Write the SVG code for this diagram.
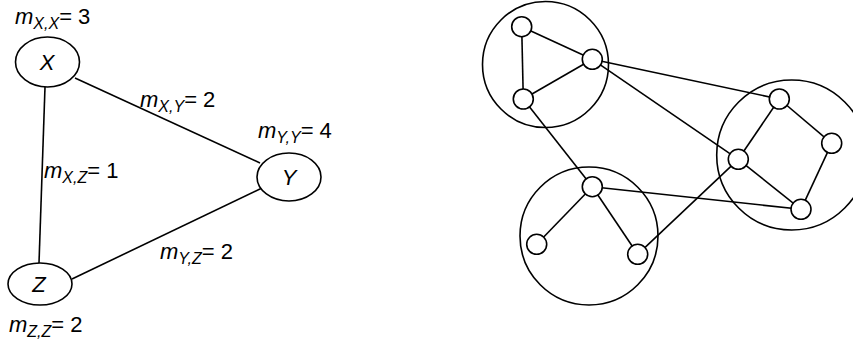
<svg xmlns="http://www.w3.org/2000/svg" width="853" height="345" viewBox="0 0 853 345">
<style>
.ln{stroke:#000;stroke-width:1.6;fill:none}
.nd{stroke:#000;stroke-width:1.6;fill:#fff}
.big{stroke:#000;stroke-width:1.6;fill:none}
text{font-family:"Liberation Sans",Arial,sans-serif;font-size:22px;fill:#000}
.it{font-style:italic}
.sub{font-style:italic;font-size:16px}
.lbl{font-style:italic;font-size:22px;text-anchor:middle}
</style>
<g id="edges-left">
<line class="ln" x1="75" y1="78" x2="260" y2="163"/>
<line class="ln" x1="45" y1="87" x2="39" y2="263"/>
<line class="ln" x1="262" y1="188" x2="72" y2="279"/>
</g>
<g id="node-X"><ellipse class="nd" cx="47.5" cy="62" rx="32" ry="25"/><text class="lbl" x="47" y="70">X</text></g>
<g id="node-Y"><ellipse class="nd" cx="289" cy="177" rx="32" ry="24"/><text class="lbl" x="289" y="185">Y</text></g>
<g id="node-Z"><ellipse class="nd" cx="40" cy="284" rx="32" ry="21"/><text class="lbl" x="39" y="292">Z</text></g>
<g id="labels">
<text x="15" y="24"><tspan class="it">m</tspan><tspan class="sub" dy="5">X,X</tspan><tspan dy="-5">= 3</tspan></text>
<text x="140" y="107"><tspan class="it">m</tspan><tspan class="sub" dy="5">X,Y</tspan><tspan dy="-5">= 2</tspan></text>
<text x="258" y="138"><tspan class="it">m</tspan><tspan class="sub" dy="5">Y,Y</tspan><tspan dy="-5">= 4</tspan></text>
<text x="44" y="178"><tspan class="it">m</tspan><tspan class="sub" dy="5">X,Z</tspan><tspan dy="-5">= 1</tspan></text>
<text x="160" y="259"><tspan class="it">m</tspan><tspan class="sub" dy="5">Y,Z</tspan><tspan dy="-5">= 2</tspan></text>
<text x="9" y="332"><tspan class="it">m</tspan><tspan class="sub" dy="5">Z,Z</tspan><tspan dy="-5">= 2</tspan></text>
</g>
<g id="clusters">
<circle id="cluster-1" class="big" cx="545.5" cy="64.5" r="63"/>
<circle id="cluster-2" class="big" cx="791.7" cy="155" r="75"/>
<circle id="cluster-3" class="big" cx="589" cy="236" r="69"/>
</g>
<g id="edges-right">
<line class="ln" x1="521.7" y1="26.7" x2="592.3" y2="59.3"/>
<line class="ln" x1="521.7" y1="26.7" x2="523.3" y2="99"/>
<line class="ln" x1="592.3" y1="59.3" x2="523.3" y2="99"/>
<line class="ln" x1="592.3" y1="59.3" x2="779.3" y2="99"/>
<line class="ln" x1="592.3" y1="59.3" x2="738.3" y2="159.3"/>
<line class="ln" x1="523.3" y1="99" x2="592.3" y2="186.7"/>
<line class="ln" x1="779.3" y1="99" x2="831.7" y2="143.3"/>
<line class="ln" x1="779.3" y1="99" x2="738.3" y2="159.3"/>
<line class="ln" x1="831.7" y1="143.3" x2="801" y2="209.3"/>
<line class="ln" x1="738.3" y1="159.3" x2="801" y2="209.3"/>
<line class="ln" x1="738.3" y1="159.3" x2="637.7" y2="254.3"/>
<line class="ln" x1="592.3" y1="186.7" x2="801" y2="209.3"/>
<line class="ln" x1="592.3" y1="186.7" x2="536.7" y2="244.3"/>
<line class="ln" x1="592.3" y1="186.7" x2="637.7" y2="254.3"/>
</g>
<g id="n-a"><circle class="nd" cx="521.7" cy="26.7" r="10"/></g>
<g id="n-b"><circle class="nd" cx="592.3" cy="59.3" r="10"/></g>
<g id="n-c"><circle class="nd" cx="523.3" cy="99" r="10"/></g>
<g id="n-d"><circle class="nd" cx="779.3" cy="99" r="10"/></g>
<g id="n-e"><circle class="nd" cx="831.7" cy="143.3" r="10"/></g>
<g id="n-f"><circle class="nd" cx="738.3" cy="159.3" r="10"/></g>
<g id="n-g"><circle class="nd" cx="801" cy="209.3" r="10"/></g>
<g id="n-h"><circle class="nd" cx="592.3" cy="186.7" r="10"/></g>
<g id="n-i"><circle class="nd" cx="536.7" cy="244.3" r="10"/></g>
<g id="n-j"><circle class="nd" cx="637.7" cy="254.3" r="10"/></g>
</svg>
